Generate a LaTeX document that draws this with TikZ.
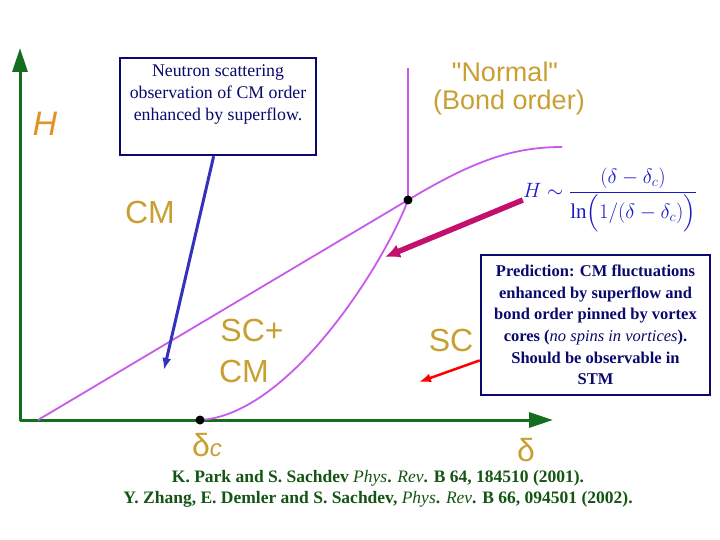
\documentclass[tikz,border=0pt]{standalone}
\usepackage{amsmath}
\usepackage{fontspec}
\setmainfont{Liberation Serif}
\setsansfont{Liberation Sans}
\newfontfamily\plainsans{Liberation Sans}
\usetikzlibrary{arrows.meta}
\definecolor{axisgreen}{RGB}{20,110,30}
\definecolor{phaseviolet}{RGB}{200,90,235}
\definecolor{lblgold}{RGB}{200,160,50}
\definecolor{hgold}{RGB}{225,145,40}
\definecolor{boxnavy}{RGB}{10,10,110}
\definecolor{ptrblue}{RGB}{50,50,190}
\definecolor{ptrpink}{RGB}{195,15,110}
\definecolor{formblue}{RGB}{25,25,200}
\definecolor{refgreen}{RGB}{20,85,20}
\tikzset{
  axisline/.style  = {draw=axisgreen, line width=3pt, line join=round,
                      {Triangle[length=24pt,width=15pt]}-{Triangle[length=24pt,width=15pt]}},
  phase/.style     = {draw=phaseviolet, line width=1.8pt},
  dotpt/.style     = {circle, fill=black, inner sep=0pt, minimum size=9pt},
  lbl/.style       = {font=\sffamily\fontsize{32}{34}\selectfont, text=lblgold, inner sep=0pt},
  lblsm/.style     = {font=\plainsans\fontsize{27}{30}\selectfont, text=lblgold, inner sep=0pt},
  infobox/.style   = {draw=boxnavy, line width=2.5pt, fill=white},
  infotext/.style  = {font=\fontsize{17.8}{22}\selectfont, text=boxnavy, align=center, inner sep=0pt},
  infotextb/.style = {font=\bfseries\fontsize{16.5}{21.6}\selectfont, text=boxnavy, align=center, inner sep=0pt},
  reftext/.style   = {font=\bfseries\fontsize{17.5}{21}\selectfont, text=refgreen, align=center, inner sep=0pt},
  ptrarrow/.style  = {-{Latex[length=12pt,width=9pt]}, line width=3pt},
}

\begin{document}
\begin{tikzpicture}[x=1pt,y=-1pt]
  \useasboundingbox (0,0) rectangle (720,540);

  % axes
  \draw[axisline] (20,48) -- (20,420) -- (553,420);
  \node[lbl, font=\sffamily\itshape\fontsize{34}{34}\selectfont, text=hgold] (hlbl) at (45,124) {H};
  \node[lbl] (dlbl) at (526,450) {δ};
  \node[lbl] (dclbl) at (207,445) {δ{\fontsize{24}{24}\selectfont\itshape c}};

  % phase boundaries
  \coordinate (ptri) at (408,200);
  \coordinate (pcrit) at (200,420);
  \draw[phase] (38,420) -- (ptri) .. controls (470,163) and (510,147) .. (562,147);
  \draw[phase] (ptri) -- (408,68);
  \draw[phase] (pcrit) .. controls (290,415) and (385,262) .. (ptri);
  \node[dotpt] (dtri) at (ptri) {};
  \node[dotpt] (dcrit) at (pcrit) {};

  % phase labels
  \node[lbl] (cmlbl) at (150,212) {CM};
  \node[lbl] (sccm1) at (252,330) {SC+};
  \node[lbl] (sccm2) at (244,371) {CM};
  \node[lbl] (sclbl) at (451,340) {SC};
  \node[lblsm] (normlbl) at (505,72) {"Normal"};
  \node[lblsm] (bondlbl) at (509,103) {(Bond order)};

  % crossover formula
  \node[text=formblue, inner sep=0pt, font=\fontsize{21}{24}\selectfont] (hform) at (610,200)
    {$H\sim\dfrac{(\delta-\delta_c)}{\ln\Bigl(1/(\delta-\delta_c)\Bigr)}$};
  \coordinate (pinktip) at (385,257);
  \draw[ptrarrow, draw=ptrpink, fill=ptrpink, line width=5.5pt, -{Latex[length=15pt,width=14pt]}]
    (hform.west) -- (pinktip);

  % neutron box
  \node[infobox, minimum width=196, minimum height=97] (nbox) at (218,106.5) {};
  \node[infotext] (ntext) at (218,95)
    {Neutron scattering\\observation of CM order\\enhanced by superflow.};
  \coordinate (cmtip) at (164,370);
  \draw[ptrarrow, draw=ptrblue, fill=ptrblue] (nbox.-95) -- (cmtip);

  % prediction box
  \node[infobox, minimum width=229, minimum height=140, infotextb] (pbox) at (595.5,325)
    {Prediction: CM fluctuations\\enhanced by superflow and\\bond order pinned by vortex\\
     cores (\textit{\mdseries no spins in vortices}).\\Should be observable in\\STM};
  \coordinate (sctip) at (419,382);
  \draw[ptrarrow, draw=red, fill=red, line width=2.5pt] (pbox.197) -- (sctip);

  % references
  \node[reftext] (refs) at (378,489)
    {K. Park and S. Sachdev \textit{\mdseries Phys}. \textit{\mdseries Rev}. B \textbf{64}, 184510 (2001).\\
     Y. Zhang, E. Demler and S. Sachdev, \textit{\mdseries Phys}. \textit{\mdseries Rev}. B \textbf{66,} 094501 (2002).};
\end{tikzpicture}
\end{document}
